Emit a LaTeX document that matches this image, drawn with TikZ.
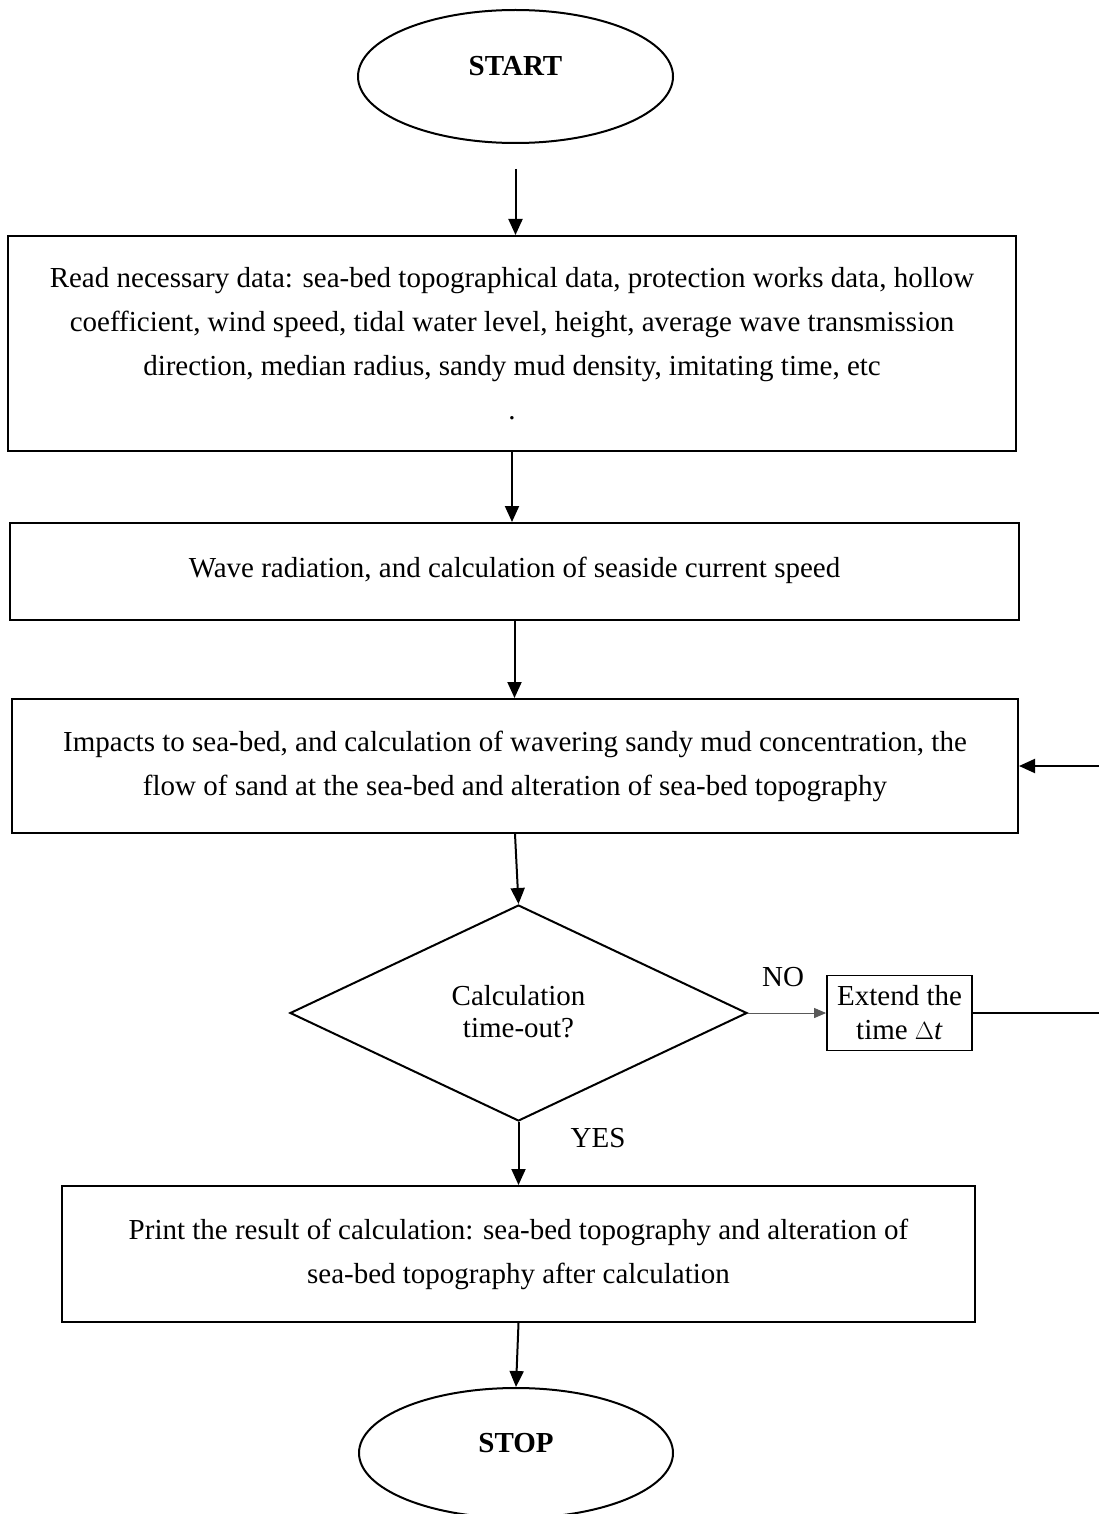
\documentclass[tikz,border=0pt]{standalone}
\usepackage{fontspec}
\setmainfont{Liberation Serif}
\usetikzlibrary{shapes.geometric,arrows.meta}
\tikzset{
  box/.style={draw, line width=2pt, rectangle, inner sep=0pt, align=center, font=\fontsize{29}{44}\selectfont},
  oval/.style={draw, line width=2pt, ellipse, inner sep=0pt, font=\fontsize{29}{35}\selectfont\bfseries},
  decision/.style={draw, line width=2pt, diamond, inner sep=0pt, align=center, font=\fontsize{29}{32}\selectfont},
  smallbox/.style={draw, line width=1.8pt, rectangle, inner sep=0pt, align=center, font=\fontsize{29}{34}\selectfont},
  lbl/.style={font=\fontsize{29}{35}\selectfont, inner sep=0pt},
  arr/.style={line width=2pt, -{Triangle[length=16pt,width=14pt]}},
  thinarr/.style={line width=0.9pt, draw=black!65, -{Triangle[length=12pt,width=10pt]}},
}
\begin{document}
\begin{tikzpicture}[x=1pt,y=-1pt]
\useasboundingbox (0,0) rectangle (1099,1514);
\node[oval, minimum width=315pt, minimum height=133pt] (start) at (515.5,76.5) {\raisebox{22pt}{START}};
\node[box, minimum width=1008pt, minimum height=215pt] (box1) at (512,343.5)
  {Read necessary data: sea-bed topographical data, protection works data, hollow\\
   coefficient, wind speed, tidal water level, height, average wave transmission\\
   direction, median radius, sandy mud density, imitating time, etc\\
   .};
\node[box, minimum width=1009pt, minimum height=97pt] (box2) at (514.5,571.5)
  {\raisebox{8pt}{Wave radiation, and calculation of seaside current speed}};
\node[box, minimum width=1006pt, minimum height=134pt] (box3) at (515,766)
  {Impacts to sea-bed, and calculation of wavering sandy mud concentration, the\\
   flow of sand at the sea-bed and alteration of sea-bed topography};
\node[decision, minimum width=457pt, minimum height=216pt] (dec) at (518.5,1013)
  {\raisebox{4pt}{Calculation}\\\raisebox{4pt}{time-out?}};
\node[smallbox, minimum width=145pt, minimum height=75pt] (ext) at (899.5,1013)
  {Extend the\\time \(\Delta\)\textit{t}};
\node[box, minimum width=913pt, minimum height=136pt] (box5) at (518.5,1254)
  {Print the result of calculation: sea-bed topography and alteration of\\
   sea-bed topography after calculation};
\node[oval, minimum width=314pt, minimum height=130pt] (stop) at (516,1453) {\raisebox{20pt}{STOP}};
\node[lbl] (no) at (783,977) {NO};
\node[lbl] (yes) at (598,1138) {YES};
\coordinate (fbk) at (1102,1013);
\draw[arr] ([yshift=-25pt]start.south) -- (start.south |- box1.north);
\draw[arr] (box1.south) -- (box1.south |- box2.north);
\draw[arr] (box2.south) -- (box2.south |- box3.north);
\draw[arr] (box3.south) -- (dec.north);
\draw[arr] (dec.south) -- (dec.south |- box5.north);
\draw[arr] (box5.south) -- (stop.north);
\draw[thinarr] (dec.east) -- (ext.west);
\draw[arr] (ext.east) -- (ext.east -| fbk) |- (box3.east);
\end{tikzpicture}
\end{document}
